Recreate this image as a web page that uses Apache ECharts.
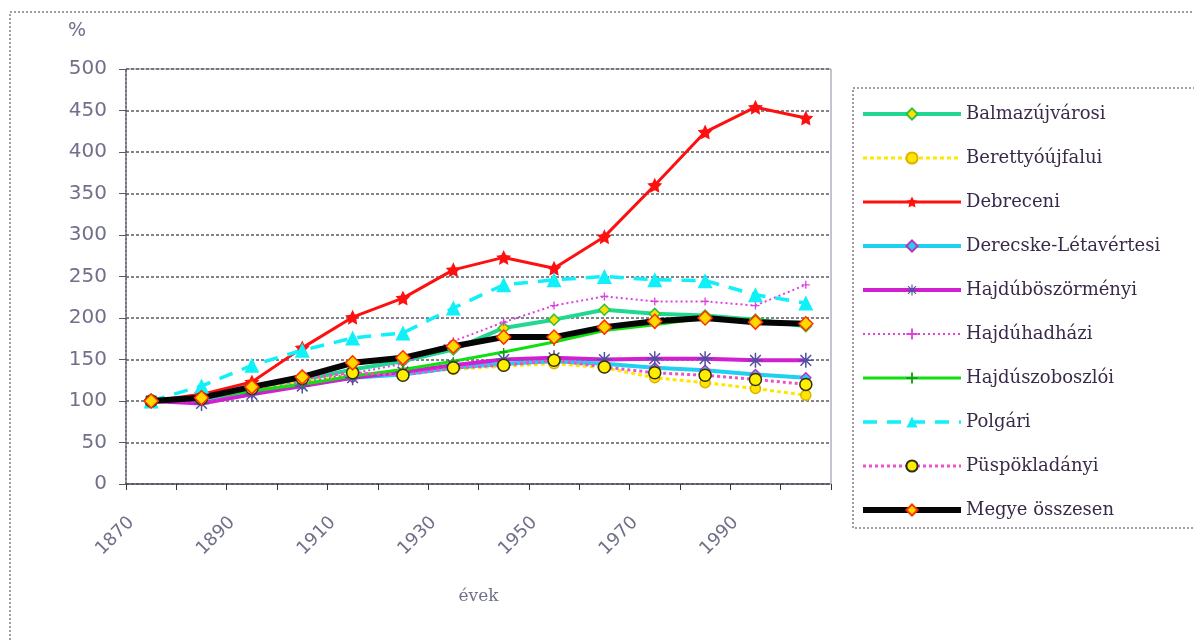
<!DOCTYPE html>
<html>
<head>
<meta charset="utf-8">
<title>Népességváltozás</title>
<script src="https://cdn.jsdelivr.net/npm/echarts@6/dist/echarts.min.js"></script>
<style>
	html, body { margin:0; padding:0; background:#fff; }
	#main { width:1194px; height:641px; }
</style>
</head>
<body>
<div id="main"></div>
<script>
// evek (x tengely)
var years = ['1870','1880','1890','1900','1910','1920','1930','1940','1950','1960','1970','1980','1990','2000'];
var yTicks = [0,50,100,150,200,250,300,350,400,450,500];

// kistersegek, %-ban (1870 = 100)
var balmazujvarosi   = [100,102,115,125,138,148,162,188,198,210,205,203,198,190];
var berettyoujfalui  = [100,102,113,123,131,134,138,142,145,140,128,122,115,107];
var debreceni        = [100,108,123,164,201,224,258,273,260,298,360,424,454,441];
var derecske         = [100,100,110,120,128,132,140,145,148,145,140,137,132,128];
var hajduboszormenyi = [100, 97,108,118,128,135,143,150,152,150,151,151,149,149];
var hajduhadhazi     = [100, 99,112,122,133,145,172,195,215,226,220,220,215,240];
var hajduszoboszloi  = [100,103,112,120,130,138,148,159,171,185,192,200,198,192];
var polgari          = [100,118,143,161,176,182,212,240,246,250,246,245,228,218];
var puspokladanyi    = [100,103,115,127,134,131,140,143,149,141,134,131,126,120];
var megye            = [100,104,117,129,146,152,166,177,177,189,196,200,195,193];

var starPath = 'path://M0,-10L2.9,-4L9.5,-3.1L4.7,1.5L5.9,8.1L0,5L-5.9,8.1L-4.7,1.5L-9.5,-3.1L-2.9,-4Z';
var asteriskPath = 'path://M-1,-10L1,-10L1,10L-1,10Z M-10,-1L10,-1L10,1L-10,1Z M-7.8,-6.4L-6.4,-7.8L7.8,6.4L6.4,7.8Z M-6.4,7.8L-7.8,6.4L6.4,-7.8L7.8,-6.4Z';
var plusPath = 'path://M-1,-6L1,-6L1,6L-1,6Z M-6,-1L6,-1L6,1L-6,1Z';

let chartBase = {
	chart:null,
	init:function(divId){
		this.chart = echarts.init(document.getElementById(divId));
		this.chart.setOption(this.buildOption());
	},
	line:function(name,data,color,width,type,symbol,size,fill,border){
		return {
			name:name,
			type:'line',
			data:data,
			symbol:symbol,
			symbolSize:size,
			showSymbol:symbol !== 'none',
			lineStyle:{color:color,width:width,type:type},
			itemStyle:{color:fill,borderColor:border,borderWidth:border ? 1.5 : 0},
			emphasis:{disabled:true},
			animation:false
		};
	},
	buildOption:function(){
		var gridColor = '#5a5a66';
		var labelColor = '#70708a';
		return {
			backgroundColor:'#fff',
			graphic:[
				{type:'rect',shape:{x:10,y:12,width:1300,height:700},
					style:{fill:'none',stroke:'#8a7a8a',lineWidth:1.5,lineDash:[2,2]},silent:true},
				{type:'rect',shape:{x:853,y:88,width:500,height:440},
					style:{fill:'none',stroke:'#8a7a8a',lineWidth:1.5,lineDash:[2,2]},silent:true}
			],
			grid:{left:126,right:363,top:69,bottom:157,show:true,borderColor:'#8a8aa0',borderWidth:1,backgroundColor:'transparent'},
			legend:{
				orient:'vertical',
				left:860,
				top:104,
				padding:0,
				itemWidth:98,
				itemHeight:14,
				itemGap:24,
				lineStyle:{width:'inherit'},
				textStyle:{fontFamily:'DejaVu Serif',fontSize:18,lineHeight:20,color:'#3a2a4a'}
			},
			xAxis:{
				type:'category',
				data:years,
				boundaryGap:true,
				name:'évek',
				nameLocation:'middle',
				nameGap:104,
				nameTextStyle:{fontFamily:'DejaVu Serif',fontSize:17,color:labelColor},
				axisLine:{lineStyle:{color:gridColor,width:2,type:[3,2]}},
				axisTick:{show:true,interval:0,length:6,inside:false,lineStyle:{color:'#333'}},
				axisLabel:{interval:1,rotate:45,margin:16,padding:[0,28,0,0],
					fontFamily:'DejaVu Sans',fontSize:18,color:labelColor},
				splitLine:{show:false}
			},
			yAxis:{
				type:'value',
				min:yTicks[0],
				max:yTicks[yTicks.length-1],
				interval:yTicks[1]-yTicks[0],
				name:'%',
				nameLocation:'end',
				nameGap:28,
				nameTextStyle:{fontFamily:'DejaVu Sans',fontSize:19,color:labelColor,align:'right',padding:[0,40,0,0]},
				axisLine:{show:true,lineStyle:{color:gridColor,width:1.5,type:[2,2]}},
				axisTick:{show:true,length:7,lineStyle:{color:gridColor}},
				axisLabel:{margin:19,fontFamily:'DejaVu Sans',fontSize:20,color:labelColor},
				splitLine:{show:true,lineStyle:{color:gridColor,width:1.5,type:[3,2]}}
			},
			series:[
				this.line('Balmazújvárosi',balmazujvarosi,'#20d890',4,'solid','diamond',11,'#ffe000','#30c040'),
				this.line('Berettyóújfalui',berettyoujfalui,'#ffe600',3,[4,3],'circle',10,'#ffe600','#e0b000'),
				this.line('Debreceni',debreceni,'#ff1010',3,'solid',starPath,15,'#ff1010',null),
				this.line('Derecske-Létavértesi',derecske,'#20d0f0',4,'solid','diamond',10,'#20d0f0','#c030c0'),
				this.line('Hajdúböszörményi',hajduboszormenyi,'#d020d0',4,'solid',asteriskPath,15,'#5050a0',null),
				this.line('Hajdúhadházi',hajduhadhazi,'#e040e0',2,[2,3],plusPath,8,'#e040e0',null),
				this.line('Hajdúszoboszlói',hajduszoboszloi,'#10e010',3,'solid',plusPath,8,'#10a010',null),
				this.line('Polgári',polgari,'#10f0f8',3.5,[14,10],'triangle',15,'#10f0f8',null),
				this.line('Püspökladányi',puspokladanyi,'#f050c8',3,[3,3],'circle',12,'#ffee00','#303010'),
				this.line('Megye összesen',megye,'#050505',6,'solid','diamond',14,'#ffd800','#ff3000')
			]
		};
	}
};

chartBase.init('main');
</script>
</body>
</html>
